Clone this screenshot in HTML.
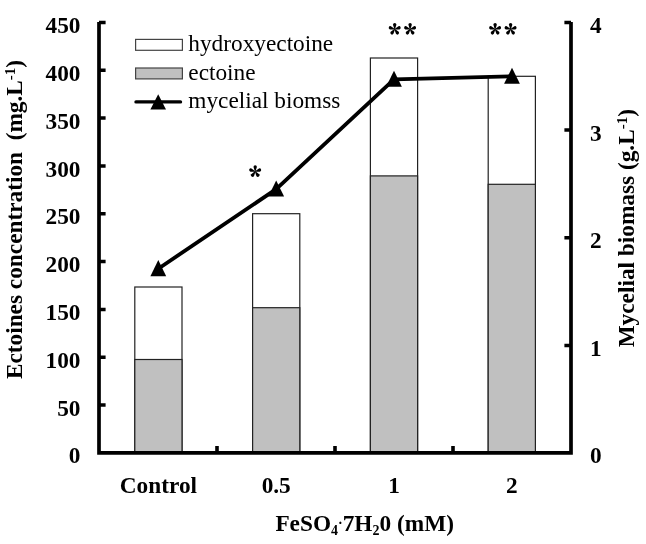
<!DOCTYPE html>
<html>
<head>
<meta charset="utf-8">
<style>
html,body{margin:0;padding:0;background:#fff;width:646px;height:544px;overflow:hidden;}
svg{display:block;filter:grayscale(1);}
text{font-family:"Liberation Serif",serif;fill:#000;white-space:pre;}
.b{font-weight:bold;font-size:23.3px;}
.lg{font-size:23.3px;}
</style>
</head>
<body>
<svg width="646" height="544" viewBox="0 0 646 544">
<!-- bars -->
<g stroke="#222" stroke-width="1.2">
<rect x="134.8" y="287" width="47.2" height="165.8" fill="#fff"/>
<rect x="134.8" y="359.5" width="47.2" height="93.3" fill="#c0c0c0"/>
<rect x="252.6" y="213.7" width="47.2" height="239.1" fill="#fff"/>
<rect x="252.6" y="307.7" width="47.2" height="145.1" fill="#c0c0c0"/>
<rect x="370.4" y="58" width="47.2" height="394.8" fill="#fff"/>
<rect x="370.4" y="175.9" width="47.2" height="276.9" fill="#c0c0c0"/>
<rect x="488.2" y="76.3" width="47.2" height="376.5" fill="#fff"/>
<rect x="488.2" y="184.3" width="47.2" height="268.5" fill="#c0c0c0"/>
</g>
<!-- axes -->
<g stroke="#000" fill="none">
<path d="M99 22 V454.6 M97.2 452.8 H572.8 M571 454.6 V22" stroke-width="3.7"/>
<g stroke-width="3.5">
<path d="M99 22.5 H105.6 M99 70.3 H105.6 M99 118.1 H105.6 M99 165.9 H105.6 M99 213.7 H105.6 M99 261.6 H105.6 M99 309.4 H105.6 M99 357.2 H105.6 M99 405 H105.6"/>
<path d="M571 22.5 H564.4 M571 130 H564.4 M571 237.8 H564.4 M571 345.4 H564.4"/>
<path d="M217 452.8 V446 M335 452.8 V446 M453 452.8 V446" stroke-width="3.6"/>
</g>
</g>
<!-- line series -->
<polyline points="158.3,268.7 276.2,189.1 394,79.3 512,76.3" fill="none" stroke="#000" stroke-width="3.8" stroke-linejoin="round"/>
<g fill="#000">
<path d="M158.3 260.1 L166.2 276.3 L150.4 276.3 Z"/>
<path d="M276.2 180.6 L284.1 196.6 L268.3 196.6 Z"/>
<path d="M394 70.8 L401.9 86.8 L386.1 86.8 Z"/>
<path d="M512 67.8 L519.9 83.8 L504.1 83.8 Z"/>
</g>
<!-- left labels -->
<g class="b" text-anchor="end">
<text x="80.5" y="33.1">450</text>
<text x="80.5" y="80.9">400</text>
<text x="80.5" y="128.7">350</text>
<text x="80.5" y="176.5">300</text>
<text x="80.5" y="224.3">250</text>
<text x="80.5" y="272.2">200</text>
<text x="80.5" y="320">150</text>
<text x="80.5" y="367.8">100</text>
<text x="80.5" y="415.6">50</text>
<text x="80.5" y="463.4">0</text>
</g>
<!-- right labels -->
<g class="b">
<text x="590" y="33.1">4</text>
<text x="590" y="140.7">3</text>
<text x="590" y="248.2">2</text>
<text x="590" y="355.8">1</text>
<text x="590" y="463.4">0</text>
</g>
<!-- x labels -->
<g class="b" text-anchor="middle">
<text x="158.4" y="493">Control</text>
<text x="276.2" y="493">0.5</text>
<text x="394" y="493">1</text>
<text x="511.8" y="493">2</text>
</g>
<!-- x title -->
<text class="b" x="275.4" y="530.6" style="font-size:23.3px">FeSO<tspan font-size="14" dy="4">4</tspan><tspan font-size="14" dy="-7">·</tspan><tspan dy="3">7H</tspan><tspan font-size="14" dy="4">2</tspan><tspan dy="-4">0 (mM)</tspan></text>
<!-- y titles -->
<text class="b" transform="translate(22,219.5) rotate(-90)" text-anchor="middle">Ectoines concentration  (mg.L<tspan font-size="15" dy="-7">-1</tspan><tspan dy="7">)</tspan></text>
<text class="b" transform="translate(634.2,228.2) rotate(-90)" text-anchor="middle">Mycelial biomass (g.L<tspan font-size="15" dy="-7.5">-1</tspan><tspan dy="7.5">)</tspan></text>
<!-- asterisks -->
<defs>
<path id="pt" d="M-0.3 0 L-1.7 -4.5 A1.7 1.7 0 1 1 1.7 -4.5 L0.3 0 Z"/>
<g id="ast"><use href="#pt"/><use href="#pt" transform="rotate(72)"/><use href="#pt" transform="rotate(144)"/><use href="#pt" transform="rotate(216)"/><use href="#pt" transform="rotate(288)"/></g>
</defs>
<g fill="#000">
<use href="#ast" transform="translate(255.2,171.5)"/>
<use href="#ast" transform="translate(394.7,29.2)"/>
<use href="#ast" transform="translate(410.1,29.2)"/>
<use href="#ast" transform="translate(495.1,29.2)"/>
<use href="#ast" transform="translate(510.6,29.2)"/>
</g>
<!-- legend -->
<rect x="135.6" y="39.4" width="46.8" height="10.9" fill="#fff" stroke="#444" stroke-width="1.2"/>
<rect x="135.6" y="68" width="46.8" height="10.9" fill="#c0c0c0" stroke="#444" stroke-width="1.2"/>
<path d="M136 101.9 H180.5" stroke="#000" stroke-width="3.4" stroke-linecap="round"/>
<path d="M158.2 94.2 L166 109.6 L150.4 109.6 Z" fill="#000"/>
<g class="lg">
<text x="188.3" y="50.9">hydroxyectoine</text>
<text x="188.3" y="79.5">ectoine</text>
<text x="188.3" y="108.1">mycelial biomss</text>
</g>
</svg>
</body>
</html>
